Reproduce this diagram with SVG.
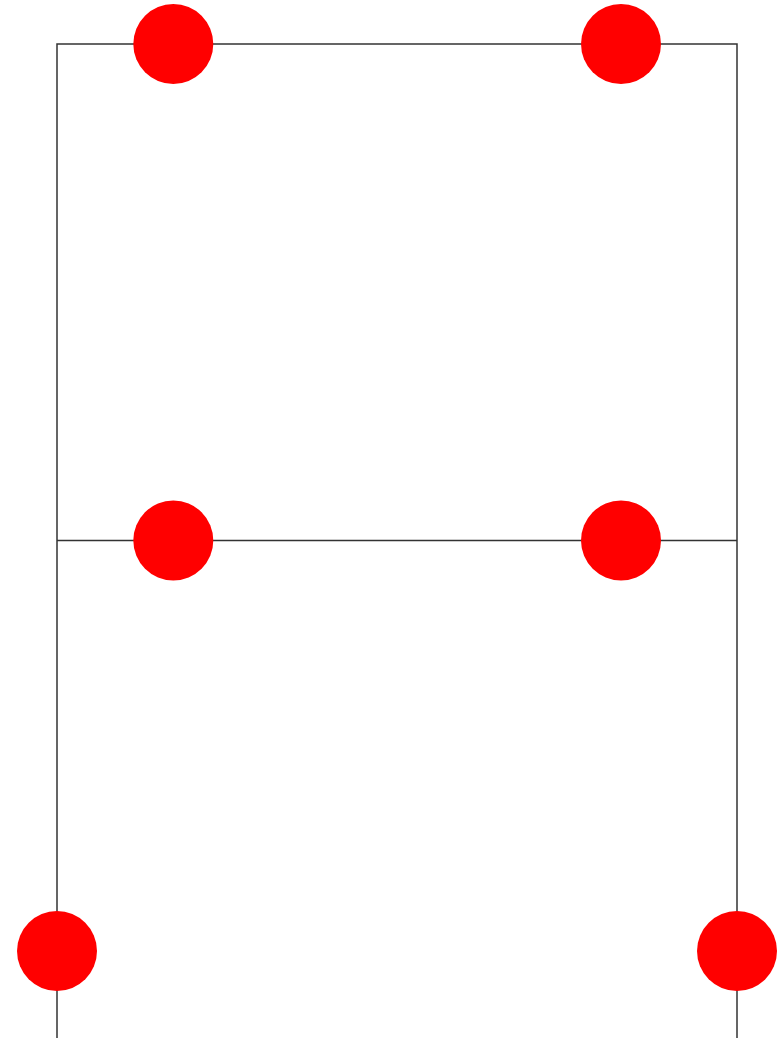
<svg xmlns="http://www.w3.org/2000/svg" width="784" height="1038" viewBox="0 0 784 1038">
<style>
.edge{stroke:#333;stroke-width:1.5;fill:none}
.node{fill:#ff0000}
</style>
<rect width="784" height="1038" fill="#fff"/>
<g id="connectors">
<path class="edge" d="M57,1038 V44 H737 V1038"/>
<path class="edge" d="M57,540.5 H737"/>
</g>
<g id="n1"><circle class="node" cx="173.3" cy="44" r="40"/></g>
<g id="n2"><circle class="node" cx="621" cy="44" r="40"/></g>
<g id="n3"><circle class="node" cx="173.3" cy="540.5" r="40"/></g>
<g id="n4"><circle class="node" cx="621" cy="540.5" r="40"/></g>
<g id="n5"><circle class="node" cx="57" cy="951" r="40"/></g>
<g id="n6"><circle class="node" cx="737" cy="951" r="40"/></g>
</svg>
